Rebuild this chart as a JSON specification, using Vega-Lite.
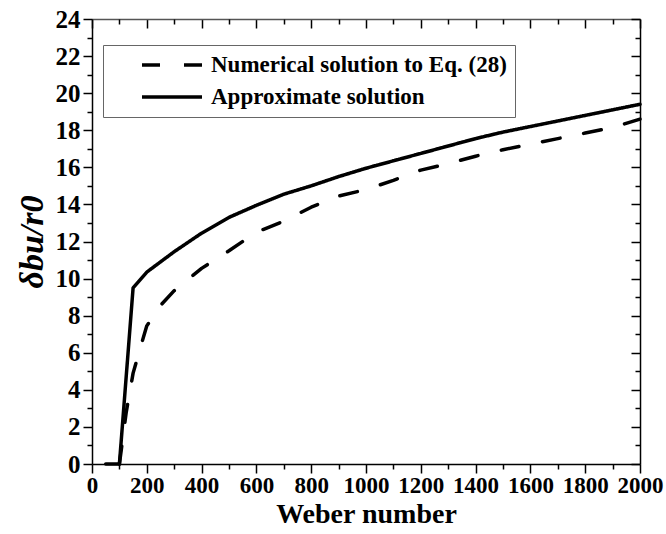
{
  "$schema": "https://vega.github.io/schema/vega-lite/v6.json",
  "autosize": {"type": "none"},
  "width": 548,
  "height": 445,
  "padding": {"left": 92, "top": 19, "right": 26, "bottom": 70},
  "background": "white",
  "config": {
    "view": {"stroke": null},
    "font": "Liberation Serif"
  },
  "datasets": {
    "curves": [
      {"We": 50, "d": 0, "s": "Approximate solution"},
      {"We": 100, "d": 0, "s": "Approximate solution"},
      {"We": 150, "d": 9.5, "s": "Approximate solution"},
      {"We": 200, "d": 10.35, "s": "Approximate solution"},
      {"We": 300, "d": 11.45, "s": "Approximate solution"},
      {"We": 400, "d": 12.45, "s": "Approximate solution"},
      {"We": 500, "d": 13.3, "s": "Approximate solution"},
      {"We": 600, "d": 13.95, "s": "Approximate solution"},
      {"We": 700, "d": 14.55, "s": "Approximate solution"},
      {"We": 800, "d": 15.0, "s": "Approximate solution"},
      {"We": 900, "d": 15.5, "s": "Approximate solution"},
      {"We": 1000, "d": 15.95, "s": "Approximate solution"},
      {"We": 1100, "d": 16.35, "s": "Approximate solution"},
      {"We": 1200, "d": 16.75, "s": "Approximate solution"},
      {"We": 1300, "d": 17.15, "s": "Approximate solution"},
      {"We": 1400, "d": 17.55, "s": "Approximate solution"},
      {"We": 1500, "d": 17.9, "s": "Approximate solution"},
      {"We": 1600, "d": 18.2, "s": "Approximate solution"},
      {"We": 1700, "d": 18.5, "s": "Approximate solution"},
      {"We": 1800, "d": 18.8, "s": "Approximate solution"},
      {"We": 1900, "d": 19.1, "s": "Approximate solution"},
      {"We": 2000, "d": 19.4, "s": "Approximate solution"},
      {"We": 100, "d": 0, "s": "Numerical solution to Eq. (28)"},
      {"We": 125, "d": 2.8, "s": "Numerical solution to Eq. (28)"},
      {"We": 150, "d": 4.9, "s": "Numerical solution to Eq. (28)"},
      {"We": 175, "d": 6.2, "s": "Numerical solution to Eq. (28)"},
      {"We": 200, "d": 7.45, "s": "Numerical solution to Eq. (28)"},
      {"We": 250, "d": 8.55, "s": "Numerical solution to Eq. (28)"},
      {"We": 300, "d": 9.35, "s": "Numerical solution to Eq. (28)"},
      {"We": 400, "d": 10.55, "s": "Numerical solution to Eq. (28)"},
      {"We": 500, "d": 11.5, "s": "Numerical solution to Eq. (28)"},
      {"We": 600, "d": 12.5, "s": "Numerical solution to Eq. (28)"},
      {"We": 700, "d": 13.1, "s": "Numerical solution to Eq. (28)"},
      {"We": 800, "d": 13.85, "s": "Numerical solution to Eq. (28)"},
      {"We": 900, "d": 14.45, "s": "Numerical solution to Eq. (28)"},
      {"We": 1000, "d": 14.8, "s": "Numerical solution to Eq. (28)"},
      {"We": 1100, "d": 15.3, "s": "Numerical solution to Eq. (28)"},
      {"We": 1200, "d": 15.85, "s": "Numerical solution to Eq. (28)"},
      {"We": 1300, "d": 16.2, "s": "Numerical solution to Eq. (28)"},
      {"We": 1400, "d": 16.6, "s": "Numerical solution to Eq. (28)"},
      {"We": 1500, "d": 16.95, "s": "Numerical solution to Eq. (28)"},
      {"We": 1600, "d": 17.25, "s": "Numerical solution to Eq. (28)"},
      {"We": 1700, "d": 17.55, "s": "Numerical solution to Eq. (28)"},
      {"We": 1800, "d": 17.85, "s": "Numerical solution to Eq. (28)"},
      {"We": 1900, "d": 18.15, "s": "Numerical solution to Eq. (28)"},
      {"We": 2000, "d": 18.6, "s": "Numerical solution to Eq. (28)"}
    ]
  },
  "data": {"name": "curves"},
  "layer": [
    {
      "mark": {"type": "line", "color": "black", "strokeWidth": 3.5, "strokeCap": "round", "strokeJoin": "round"},
      "encoding": {
        "x": {
          "field": "We", "type": "quantitative",
          "scale": {"domain": [0, 2000], "nice": false},
          "axis": {
            "orient": "bottom",
            "values": [0,200,400,600,800,1000,1200,1400,1600,1800,2000],
            "format": "d",
            "labelOverlap": false,
            "labelFlush": false,
            "grid": false,
            "domainColor": "black", "domainWidth": 1.5,
            "tickColor": "black", "tickWidth": 1.5,
            "tickSize": 9,
            "labelFont": "Liberation Serif", "labelFontWeight": "bold", "labelFontSize": 23, "labelColor": "black",
            "labelPadding": 1,
            "title": "Weber number",
            "titleFont": "Liberation Serif", "titleFontWeight": "bold", "titleFontSize": 28, "titleColor": "black",
            "titlePadding": 3
          }
        },
        "y": {
          "field": "d", "type": "quantitative",
          "scale": {"domain": [0, 24], "nice": false},
          "axis": {
            "orient": "left",
            "values": [0,2,4,6,8,10,12,14,16,18,20,22,24],
            "labelOverlap": false,
            "labelFlush": false,
            "grid": false,
            "domainColor": "black", "domainWidth": 1.5,
            "tickColor": "black", "tickWidth": 1.5,
            "tickSize": 9,
            "labelFont": "Liberation Serif", "labelFontWeight": "bold", "labelFontSize": 25, "labelColor": "black",
            "labelPadding": 3,
            "title": "δbu/r0",
            "titleFont": "Liberation Serif", "titleFontWeight": "bold", "titleFontStyle": "italic", "titleFontSize": 34, "titleColor": "black",
            "titlePadding": 6
          }
        },
        "strokeDash": {
          "field": "s", "type": "nominal",
          "scale": {"domain": ["Numerical solution to Eq. (28)", "Approximate solution"], "range": [[18, 24], [1, 0]]},
          "legend": {
            "title": null,
            "orient": "none",
            "legendX": 11,
            "legendY": 26,
            "direction": "vertical",
            "strokeColor": "#666666",
            "fillColor": "white",
            "padding": 8,
            "symbolType": "M-3,0H3",
            "symbolSize": 400,
            "symbolStrokeWidth": 3.5,
            "symbolStrokeColor": "black",
            "symbolFillColor": "transparent",
            "symbolOffset": 49,
            "labelFont": "Liberation Serif", "labelFontWeight": "bold", "labelFontSize": 23, "labelColor": "black",
            "labelOffset": 27,
            "rowPadding": 8,
            "labelLimit": 400
          }
        }
      }
    },
    {
      "mark": {"type": "line", "opacity": 0},
      "encoding": {
        "x": {
          "field": "We", "type": "quantitative",
          "axis": {
            "orient": "bottom",
            "values": [100,300,500,700,900,1100,1300,1500,1700,1900],
            "labels": false, "grid": false, "title": null, "domain": false,
            "tickColor": "black", "tickWidth": 1.5, "tickSize": 5
          }
        },
        "y": {
          "field": "d", "type": "quantitative",
          "axis": {
            "orient": "left",
            "values": [1,3,5,7,9,11,13,15,17,19,21,23],
            "labels": false, "grid": false, "title": null, "domain": false,
            "tickColor": "black", "tickWidth": 1.5, "tickSize": 5
          }
        },
        "detail": {"field": "s", "type": "nominal"}
      }
    },
    {
      "mark": {"type": "line", "opacity": 0},
      "encoding": {
        "x": {
          "field": "We", "type": "quantitative",
          "axis": {
            "orient": "top",
            "values": [0,200,400,600,800,1000,1200,1400,1600,1800,2000],
            "labels": false, "grid": false, "title": null,
            "domainColor": "#555555", "domainWidth": 1.5,
            "tickColor": "black", "tickWidth": 1.5, "tickSize": -9
          }
        },
        "y": {
          "field": "d", "type": "quantitative",
          "axis": {
            "orient": "right",
            "values": [0,2,4,6,8,10,12,14,16,18,20,22,24],
            "labels": false, "grid": false, "title": null,
            "domainColor": "black", "domainWidth": 1.5,
            "tickColor": "black", "tickWidth": 1.5, "tickSize": -9
          }
        },
        "detail": {"field": "s", "type": "nominal"}
      }
    },
    {
      "mark": {"type": "line", "opacity": 0},
      "encoding": {
        "x": {
          "field": "We", "type": "quantitative",
          "axis": {
            "orient": "top",
            "values": [100,300,500,700,900,1100,1300,1500,1700,1900],
            "labels": false, "grid": false, "title": null, "domain": false,
            "tickColor": "black", "tickWidth": 1.5, "tickSize": -5
          }
        },
        "y": {
          "field": "d", "type": "quantitative",
          "axis": {
            "orient": "right",
            "values": [1,3,5,7,9,11,13,15,17,19,21,23],
            "labels": false, "grid": false, "title": null, "domain": false,
            "tickColor": "black", "tickWidth": 1.5, "tickSize": -5
          }
        },
        "detail": {"field": "s", "type": "nominal"}
      }
    }
  ],
  "resolve": {"axis": {"x": "independent", "y": "independent"}}
}
